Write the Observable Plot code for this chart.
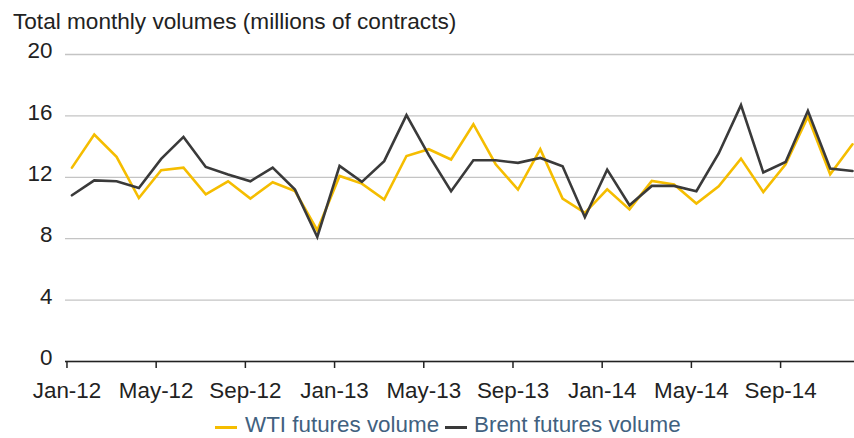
<!DOCTYPE html>
<html>
<head>
<meta charset="utf-8">
<script src="https://cdn.jsdelivr.net/npm/d3@7"></script>
<script src="https://cdn.jsdelivr.net/npm/@observablehq/plot@0.6"></script>
<style>
  body { margin: 0; background: #fff; font-family: "Liberation Sans", Arial, sans-serif; }
  #wrap { position: relative; width: 854px; height: 438px; overflow: hidden; }
  #title { position: absolute; left: 13px; top: 11px; font-size: 22.6px; line-height: 22px; color: #222; white-space: nowrap; }
  #chart { position: absolute; left: 0; top: 0; }
  .leg { position: absolute; top: 414px; font-size: 22.4px; line-height: 22px; color: #41617f; white-space: nowrap; }
  .sw { position: absolute; height: 3px; top: 426px; }
</style>
</head>
<body>
<div id="wrap">
  <div id="chart"></div>
  <div id="title">Total monthly volumes (millions of contracts)</div>
  <div class="sw" style="left:215px;width:22px;background:#f5bd00"></div>
  <div class="leg" style="left:245px">WTI futures volume</div>
  <div class="sw" style="left:445px;width:22px;background:#3a3a3a"></div>
  <div class="leg" style="left:474px">Brent futures volume</div>
</div>
<script>
const months = ["Jan-12","Feb-12","Mar-12","Apr-12","May-12","Jun-12","Jul-12","Aug-12","Sep-12","Oct-12","Nov-12","Dec-12",
  "Jan-13","Feb-13","Mar-13","Apr-13","May-13","Jun-13","Jul-13","Aug-13","Sep-13","Oct-13","Nov-13","Dec-13",
  "Jan-14","Feb-14","Mar-14","Apr-14","May-14","Jun-14","Jul-14","Aug-14","Sep-14","Oct-14","Nov-14","Dec-14"];
const wti = [12.63,14.79,13.33,10.65,12.46,12.63,10.89,11.74,10.61,11.68,11.10,8.55,
  12.09,11.59,10.55,13.39,13.83,13.16,15.46,12.85,11.20,13.83,10.61,9.68,
  11.22,9.91,11.76,11.53,10.29,11.42,13.22,11.04,12.85,15.94,12.20,14.15];
const brent = [10.83,11.80,11.74,11.30,13.20,14.63,12.67,12.18,11.74,12.63,11.20,8.11,
  12.74,11.70,13.05,16.05,13.44,11.09,13.11,13.11,12.94,13.26,12.72,9.40,
  12.50,10.18,11.44,11.44,11.09,13.55,16.70,12.31,13.00,16.33,12.57,12.41];
const yTicks = [0,4,8,12,16,20];
const xTicks = [0,4,8,12,16,20,24,28,32];

const rows = [];
months.forEach((m,i) => {
  rows.push({i, month:m, series:"WTI futures volume", v:wti[i]});
  rows.push({i, month:m, series:"Brent futures volume", v:brent[i]});
});

const chart = Plot.plot({
  width: 854,
  height: 438,
  marginTop: 54,
  marginBottom: 77,
  marginLeft: 65,
  marginRight: 0,
  style: {fontFamily: '"Liberation Sans", Arial, sans-serif', fontSize: "22px", color: "#222", background: "transparent"},
  x: {domain: [-0.29, 35.09], ticks: xTicks, tickFormat: i => months[i], label: null},
  y: {domain: [0, 20], ticks: yTicks, label: null},
  color: {domain: ["WTI futures volume","Brent futures volume"], range: ["#f5bd00","#3a3a3a"]},
  marks: [
    Plot.gridY(yTicks, {stroke: "#c4c4c4", strokeOpacity: 1, strokeWidth: 1.3}),
    Plot.axisY({ticks: yTicks, tickSize: 0, tickPadding: 13, dy: -3.5, fontSize: 22.4}),
    Plot.lineY(rows, {x: "i", y: "v", z: "series", stroke: "series", strokeWidth: 2.6, strokeLinejoin: "miter", strokeMiterlimit: 4}),
    Plot.ruleY([0], {stroke: "#222", strokeWidth: 1.5}),
    Plot.axisX({ticks: xTicks, tickFormat: i => months[i], tickSize: 7, tickPadding: 14, dx: -5, stroke: "#222", strokeWidth: 1.5, fontSize: 22.4})
  ]
});
document.getElementById("chart").appendChild(chart);
</script>
</body>
</html>
